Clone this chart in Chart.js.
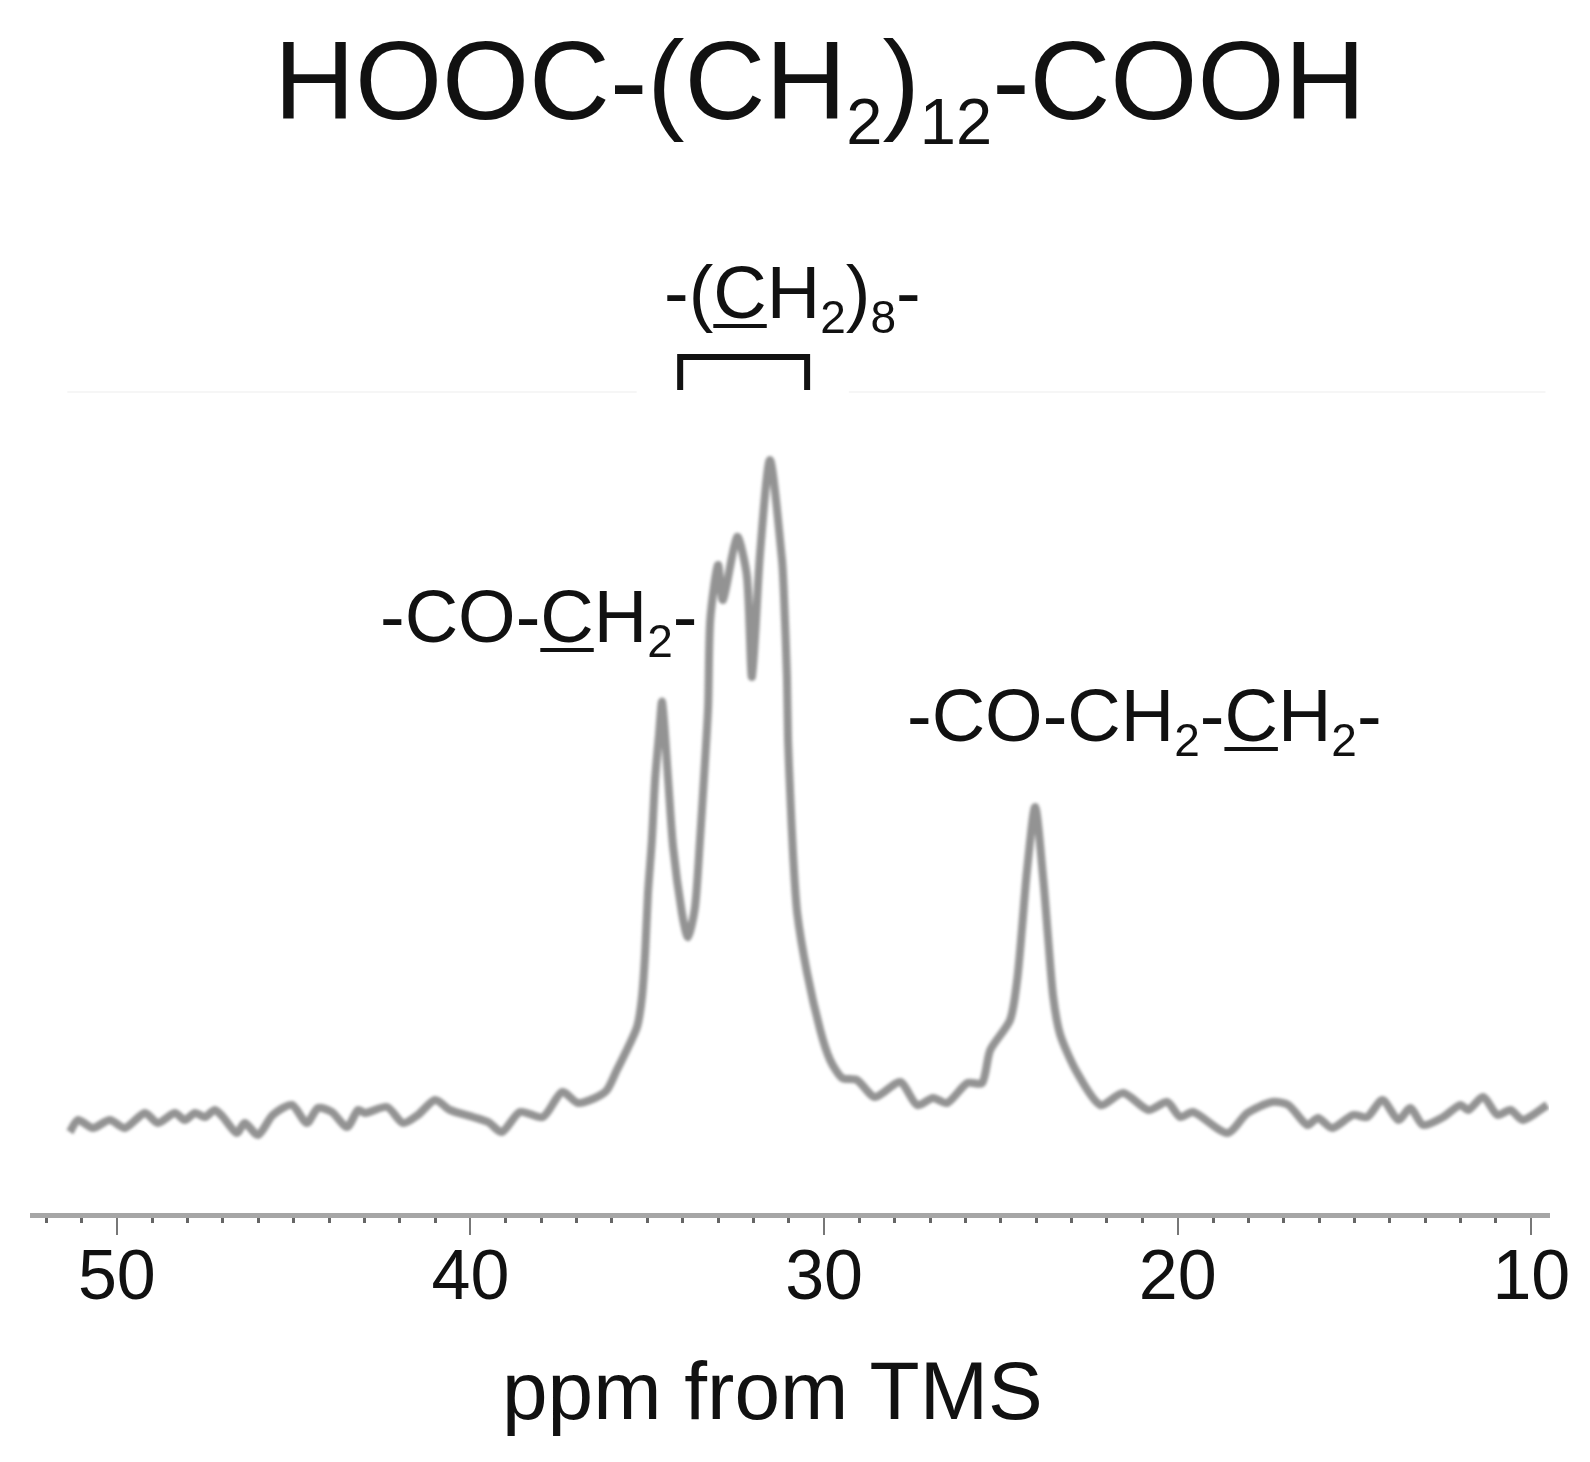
<!DOCTYPE html>
<html>
<head>
<meta charset="utf-8">
<title>HOOC-(CH2)12-COOH</title>
<script src="https://cdn.jsdelivr.net/npm/chart.js@4"></script>
<style>
html, body { margin: 0; background: #fff; }
#wrap { position: relative; width: 1590px; height: 1462px; overflow: hidden; font-family: "Liberation Sans", Arial, sans-serif; color: #111; }
#wrap canvas { position: absolute; left: 0; top: 0; filter: blur(0.7px); }
.lbl { position: absolute; white-space: nowrap; line-height: 1; font-size: 74px; }
.lbl sub { font-size: 46px; line-height: 0; vertical-align: -15px; }
.lbl u { text-decoration-thickness: 4px; text-underline-offset: 6px; }
#mainTitle { left: 274px; top: 25px; font-size: 112px; }
#mainTitle sub { font-size: 65px; vertical-align: -25px; }
#lblChain { left: 664px; top: 256px; }
#lblAlpha { left: 380px; top: 580px; }
#lblBeta { left: 907px; top: 679px; }
#axisName { left: 502px; top: 1350px; font-size: 82px; }
</style>
</head>
<body>
<div id="wrap">
  <canvas id="chart" width="1590" height="1462"></canvas>
  <div class="lbl" id="mainTitle">HOOC-(CH<sub>2</sub>)<sub>12</sub>-COOH</div>
  <div class="lbl" id="lblChain">-(<u>C</u>H<sub>2</sub>)<sub>8</sub>-</div>
  <div class="lbl" id="lblAlpha">-CO-<u>C</u>H<sub>2</sub>-</div>
  <div class="lbl" id="lblBeta">-CO-CH<sub>2</sub>-<u>C</u>H<sub>2</sub>-</div>
  <div class="lbl" id="axisName">ppm from TMS</div>
</div>
<script>
// 化学位移 (ppm) 和信号强度，从图上读出来的
const ppm = [
    51.33, 51.10, 50.68, 50.20, 49.77, 49.21, 48.84, 48.36, 48.08, 47.79, 47.51, 47.23, 47.00,
    46.61, 46.38, 46.01, 45.59, 45.05, 44.63, 44.31, 43.92, 43.49, 43.18, 42.98, 42.36, 41.91,
    41.49, 41.00, 40.58, 39.93, 39.50, 39.11, 38.60, 37.95, 37.41, 36.96, 36.48, 36.14, 35.86,
    35.69, 35.29, 35.15, 35.06, 34.98, 34.87, 34.78, 34.67, 34.58, 34.41, 34.27, 34.02, 33.85,
    33.65, 33.51, 33.37, 33.28, 33.22, 33.00, 32.86, 32.46, 32.18, 32.04, 31.81, 31.53, 31.19,
    31.13, 31.05, 31.02, 30.96, 30.88, 30.76, 30.48, 30.11, 29.83, 29.49, 29.07, 28.56, 27.85,
    27.37, 26.92, 26.52, 25.95, 25.53, 25.30, 24.74, 24.54, 24.40, 24.26, 24.03, 23.80, 23.66,
    23.52, 23.32, 22.84, 22.19, 21.54, 20.83, 20.30, 19.93, 19.56, 18.60, 18.03, 17.33, 16.87,
    16.34, 16.03, 15.63, 15.04, 14.64, 14.21, 13.76, 13.42, 13.06, 12.49, 12.01, 11.78, 11.36,
    10.96, 10.59, 10.23, 9.55
];
const intensity = [
    83, 95, 87, 95, 87, 102, 92, 102, 95, 102, 98, 105, 98,
    82, 92, 80, 100, 110, 92, 107, 103, 88, 105, 102, 108, 92,
    100, 115, 105, 98, 93, 83, 103, 98, 123, 112, 117, 125, 145,
    157, 188, 218, 262, 322, 375, 435, 480, 513, 435, 368, 302, 278,
    308, 375, 452, 508, 595, 650, 615, 678, 638, 538, 662, 755, 655,
    615, 538, 475, 422, 362, 302, 242, 185, 155, 137, 135, 118, 133,
    110, 117, 112, 132, 132, 165, 195, 235, 288, 345, 408, 335, 275,
    218, 180, 142, 110, 122, 105, 113, 98, 103, 82, 102, 113, 110,
    90, 97, 87, 100, 98, 115, 95, 107, 90, 98, 110, 105, 118,
    100, 105, 95, 110
];

// 亚甲基峰上方的括号
const bracketPpm = [34.07, 34.07, 30.48, 30.48];
const bracketLevel = [828, 858, 858, 828];

// 原图上方那条很淡的横线，中间断开
const faintPpm = [51.4, 35.3, null, 29.3, 9.6];
const faintLevel = [823, 823, null, 823, 823];

// 刻度
const majorTicks = [50, 40, 30, 20, 10];
const minorTicks = [52, 51, 49, 48, 47, 46, 45, 44, 43, 42, 41, 39, 38, 37, 36, 35, 34, 33, 32, 31,
    29, 28, 27, 26, 25, 24, 23, 22, 21, 19, 18, 17, 16, 15, 14, 13, 12, 11];

function toPoints(xs, ys) {
    return xs.map((x, i) => ({ x: x, y: ys[i] }));
}

// 谱线在原图里是模糊的，只给这条线加滤镜
const blurSpectrum = {
    id: 'blurSpectrum',
    beforeDatasetDraw(chart, args) {
        if (args.index === 0) {
            chart.ctx.save();
            chart.ctx.filter = 'blur(1.6px)';
        }
    },
    afterDatasetDraw(chart, args) {
        if (args.index === 0) {
            chart.ctx.restore();
        }
    }
};

const fontName = '"Liberation Sans", Arial, sans-serif';
const ctx = document.getElementById('chart').getContext('2d');

new Chart(ctx, {
    type: 'line',
    data: {
        datasets: [
            {
                label: 'spectrum',
                data: toPoints(ppm, intensity),
                borderColor: 'rgba(105, 105, 105, 0.72)',
                borderWidth: 8,
                tension: 0.25,
                pointRadius: 0
            },
            {
                label: 'bracket',
                data: toPoints(bracketPpm, bracketLevel),
                borderColor: '#111',
                borderWidth: 6,
                borderCapStyle: 'square',
                tension: 0,
                pointRadius: 0
            },
            {
                label: 'faint line',
                data: toPoints(faintPpm, faintLevel),
                borderColor: '#f6f6f6',
                borderWidth: 2,
                tension: 0,
                pointRadius: 0
            }
        ]
    },
    plugins: [blurSpectrum],
    options: {
        responsive: false,
        animation: false,
        layout: { padding: { left: 32, right: 41, top: 215, bottom: 0 } },
        plugins: { legend: { display: false }, title: { display: false }, tooltip: { enabled: false } },
        scales: {
            x: {
                type: 'linear',
                reverse: true,
                min: 9.5,
                max: 52.4,
                afterBuildTicks: axis => { axis.ticks = majorTicks.map(v => ({ value: v })); },
                afterFit: axis => { axis.height = 247; },
                border: { display: true, color: '#a6a6a6', width: 5 },
                grid: { drawOnChartArea: false, color: '#777', tickLength: 20, lineWidth: 2 },
                ticks: {
                    color: '#111',
                    autoSkip: false,
                    maxRotation: 0,
                    padding: 3,
                    font: { family: fontName, size: 70 },
                    callback: value => String(value)
                }
            },
            // 小刻度单独一条轴，和主轴重合
            xMinor: {
                type: 'linear',
                axis: 'x',
                reverse: true,
                min: 9.5,
                max: 52.4,
                position: { y: 0 },
                afterBuildTicks: axis => { axis.ticks = minorTicks.map(v => ({ value: v })); },
                border: { display: false },
                grid: { drawOnChartArea: false, color: '#666', tickLength: 8, lineWidth: 3 },
                ticks: { display: false, autoSkip: false }
            },
            y: {
                display: false,
                min: 0,
                max: 1000
            }
        }
    }
});
</script>
</body>
</html>
